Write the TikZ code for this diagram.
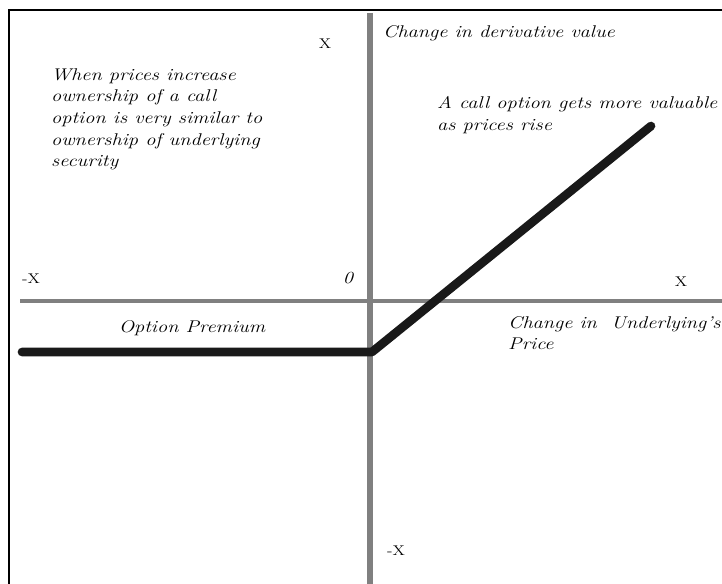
\documentclass[tikz,border=0pt]{standalone}
\usepackage{fontspec}
\setmainfont[FakeStretch=1.2]{Latin Modern Roman}
\usepackage{tikz}
\usetikzlibrary{positioning, calc}

\begin{document}
\begin{tikzpicture}[
    x=0.03cm, y=-0.03cm,
    axis/.style={draw=black!50},
    payoff/.style={draw=black!90, line width=2.6mm, line cap=round, line join=round},
    frame/.style={draw=black, line width=0.5mm},
    lbl/.style={font=\itshape\fontsize{14.5}{18.5}\selectfont, inner sep=0pt, align=left},
    tick/.style={font=\fontsize{12}{14}\selectfont, inner sep=0pt}
]
\useasboundingbox (0,0) rectangle (722,584);

% Frame
\coordinate (fbl) at (9,584);
\coordinate (ftl) at (9,10);
\coordinate (ftr) at (722,10);
\draw[frame] (fbl) -- (ftl) -- (ftr);

% Axes
\coordinate (xl) at (20,301);
\coordinate (xr) at (722,301);
\coordinate (yt) at (370,13);
\coordinate (yb) at (370,584);
\draw[axis, line width=1.4mm] (xl) -- (xr);
\draw[axis, line width=2mm] (yt) -- (yb);

% Payoff
\coordinate (p0) at (22,352);
\coordinate (k) at (372,352);
\coordinate (p1) at (651,126);
\draw[payoff] (p0) -- (k) -- (p1);

% Labels
\node[tick] (xtop) at (325,44) {X};
\node[lbl, anchor=west] (yaxlbl) at (383,33) {Change in derivative value};
\node[lbl, anchor=north west] (note) at (51,68) {When prices increase\\ownership of a call\\option is very similar to\\ownership of underlying\\security};
\node[lbl, anchor=north west] (callnote) at (437,96) {A call option gets more valuable\\as prices rise};
\node[tick] (xneg) at (31,279) {-X};
\node[lbl] (orig) at (348,278) {0};
\node[tick] (xpos) at (681,282) {X};
\node[lbl] (prem) at (192,328) {Option Premium};
\node[lbl, anchor=north west] (xaxlbl) at (508,316) {Change in\ \ Underlying's\\Price};
\node[tick] (xbot) at (396,551) {-X};

\end{tikzpicture}
\end{document}
